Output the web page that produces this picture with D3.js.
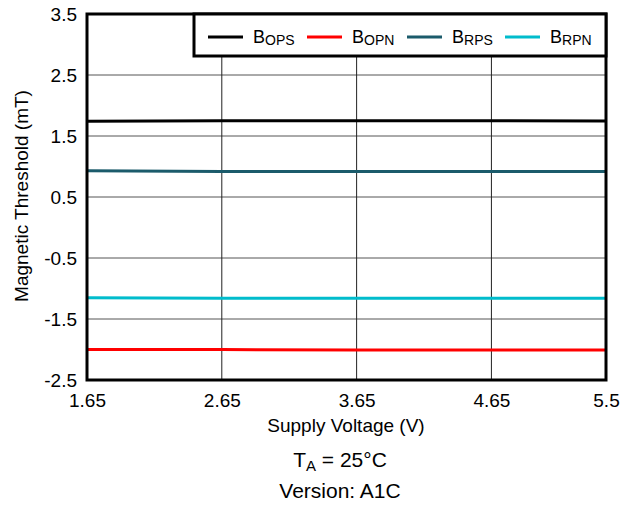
<!DOCTYPE html>
<html><head><meta charset="utf-8">
<script src="https://cdn.jsdelivr.net/npm/d3@7"></script>
<style>body{margin:0;background:#fff}svg{display:block;font-family:Arial,"Liberation Sans",sans-serif}</style>
</head><body><svg id="c" width="632" height="506"></svg>
<script>
const voltages = [1.65, 2.65, 3.65, 4.65, 5.5];
const bOPS = [1.74, 1.75, 1.75, 1.75, 1.745];
const bOPN = [-2.0, -2.0, -2.01, -2.01, -2.01];
const bRPS = [0.93, 0.92, 0.92, 0.92, 0.92];
const bRPN = [-1.15, -1.16, -1.16, -1.16, -1.16];
const xTicks = [1.65, 2.65, 3.65, 4.65, 5.5];
const yTicks = [-2.5, -1.5, -0.5, 0.5, 1.5, 2.5, 3.5];
const seriesNames = [["B","OPS"],["B","OPN"],["B","RPS"],["B","RPN"]];
const seriesColors = ["#000000","#ff0000","#1b5b6b","#00bccc"];
const seriesData = [bOPS, bOPN, bRPS, bRPN];

const svg = d3.select("#c");
const FF = "Arial, 'Liberation Sans', sans-serif";
const L=87, R=606, T=14, B=380;
const x = d3.scaleLinear().domain([1.65,5.5]).range([L,R]);
const y = d3.scaleLinear().domain([-2.5,3.5]).range([B,T]);
const loc = d3.formatLocale({decimal:".", thousands:",", grouping:[3], currency:["",""], minus:"-"});

// grid
svg.append("g").selectAll("line").data(yTicks.slice(1,-1)).join("line")
  .attr("x1",L).attr("x2",R).attr("y1",d=>y(d)).attr("y2",d=>y(d))
  .attr("stroke","#555").attr("stroke-width",1);
svg.append("g").selectAll("line").data(xTicks.slice(1,-1)).join("line")
  .attr("y1",T).attr("y2",B).attr("x1",d=>x(d)).attr("x2",d=>x(d))
  .attr("stroke","#222").attr("stroke-width",1);

// lines
const line = d3.line().x((d,i)=>x(voltages[i])).y(d=>y(d));
seriesData.forEach((s,k)=>{
  svg.append("path").datum(s).attr("d",line).attr("fill","none")
    .attr("stroke",seriesColors[k]).attr("stroke-width",3);
});

// border
svg.append("rect").attr("x",L).attr("y",T).attr("width",R-L).attr("height",B-T)
  .attr("fill","none").attr("stroke","#000").attr("stroke-width",3);

// axes labels
const yAxis = d3.axisLeft(y).tickValues(yTicks).tickSize(0).tickPadding(10).tickFormat(loc.format(".1f"));
const gy = svg.append("g").attr("transform",`translate(${L},0)`).call(yAxis);
gy.select(".domain").remove();
gy.attr("font-size",19).attr("font-family",FF);
gy.selectAll("text").attr("fill","#000");
const xAxis = d3.axisBottom(x).tickValues(xTicks).tickSize(0).tickPadding(14).tickFormat(d=>d===5.5?"5.5":loc.format(".2f")(d));
const gx = svg.append("g").attr("transform",`translate(0,${B})`).call(xAxis);
gx.select(".domain").remove();
gx.attr("font-size",19).attr("font-family",FF);
gx.selectAll("text").attr("fill","#000");

svg.append("text").attr("x",346).attr("y",432).attr("text-anchor","middle").attr("font-size",19).text("Supply Voltage (V)");
svg.append("text").attr("transform","translate(28,196) rotate(-90)").attr("text-anchor","middle").attr("font-size",19).text("Magnetic Threshold (mT)");

const ta = svg.append("text").attr("x",340).attr("y",467).attr("text-anchor","middle").attr("font-size",21);
ta.append("tspan").text("T");
ta.append("tspan").attr("font-size",15).attr("dy",4).text("A");
ta.append("tspan").attr("dy",-4).text(" = 25°C");
svg.append("text").attr("x",340).attr("y",498).attr("text-anchor","middle").attr("font-size",21).text("Version: A1C");

// legend
svg.append("rect").attr("x",194).attr("y",T).attr("width",R-194).attr("height",42)
  .attr("fill","#fff").attr("stroke","#000").attr("stroke-width",3);
const legX = [208, 307, 407, 505];
seriesNames.forEach((n,k)=>{
  const g = svg.append("g");
  g.append("line").attr("x1",legX[k]).attr("x2",legX[k]+35).attr("y1",37).attr("y2",37)
    .attr("stroke",seriesColors[k]).attr("stroke-width",3);
  const t = g.append("text").attr("x",legX[k]+45).attr("y",43).attr("font-size",18);
  t.append("tspan").text(n[0]);
  t.append("tspan").attr("font-size",14).attr("dy",2).text(n[1]);
});
</script></body></html>
